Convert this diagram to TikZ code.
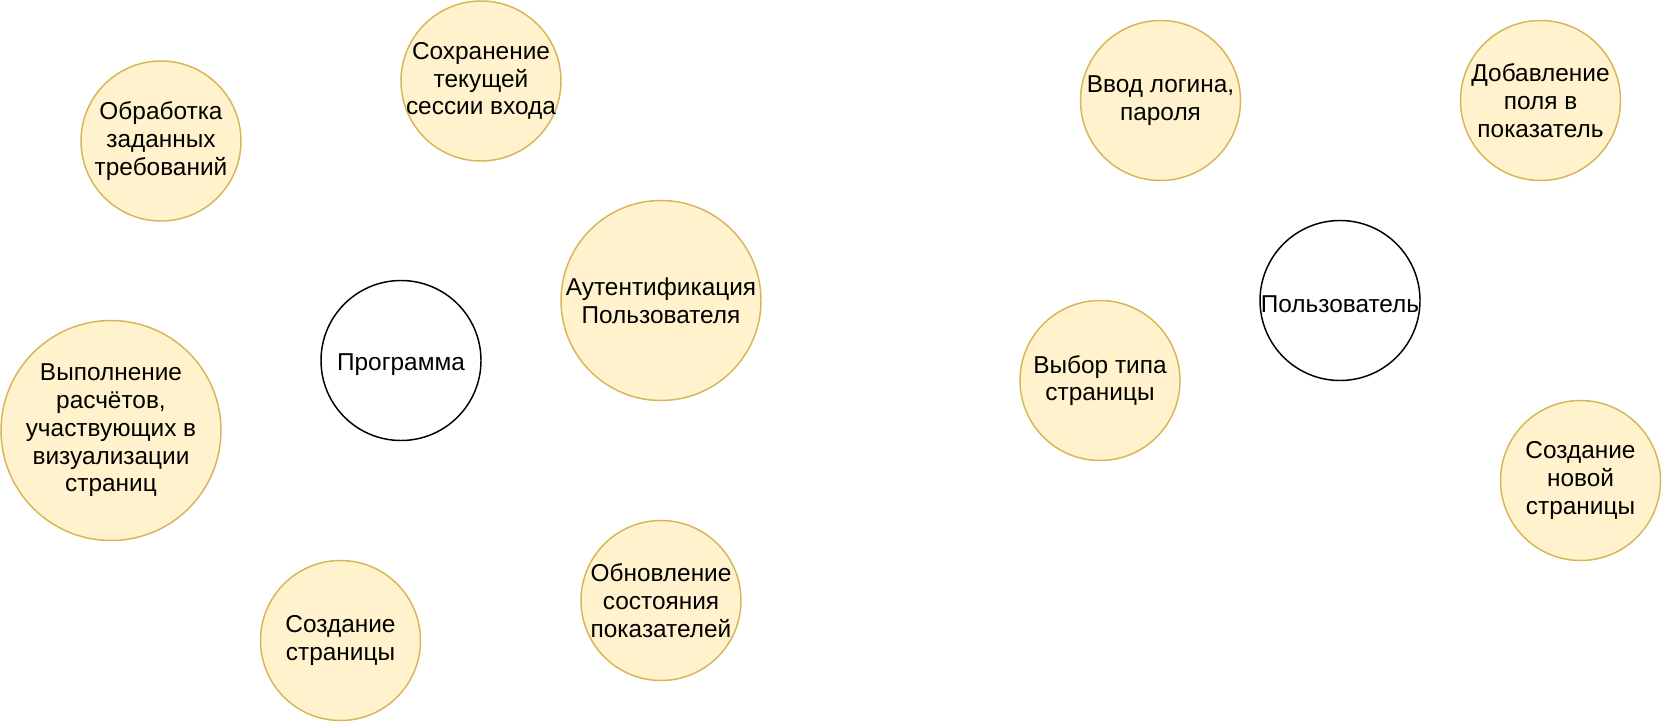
\documentclass[tikz,border=0pt]{standalone}
\usepackage{fontspec}
\setmainfont{Liberation Sans}
\definecolor{ucfill}{HTML}{FFF2CC}
\definecolor{ucdraw}{HTML}{D6B656}
\begin{document}
\begin{tikzpicture}[x=0.75pt,y=-0.75pt,
  lbl/.style={inner sep=0pt,align=center,font=\fontsize{18.3}{20.8}\selectfont},
  base/.style={circle,inner sep=0pt,line width=1.1pt,minimum size=120pt},
  usecase/.style={base,draw=ucdraw,fill=ucfill,label={[lbl]center:#1}},
  actor/.style={base,draw=black,fill=white,label={[lbl,yshift=-3pt]center:#1}}]
\useasboundingbox (0,0) rectangle (1662,724);
\node[usecase={Обработка\\заданных\\требований}] (obr) at (161,141) {};
\node[usecase={Сохранение\\текущей\\сессии входа}] (sohr) at (481,81) {};
\node[usecase={Аутентификация\\Пользователя},minimum size=150pt] (auth) at (661,300.5) {};
\node[actor={Программа}] (prog) at (401,360.5) {};
\node[usecase={Выполнение\\расчётов,\\участвующих в\\визуализации\\страниц},minimum size=165pt] (vyp) at (111,430.5) {};
\node[usecase={Создание\\страницы}] (sozd) at (340.5,640.5) {};
\node[usecase={Обновление\\состояния\\показателей}] (obn) at (661,600.5) {};
\node[usecase={Ввод логина,\\пароля}] (vvod) at (1160.5,100.5) {};
\node[usecase={Добавление\\поля в\\показатель}] (dob) at (1540.5,100.5) {};
\node[actor={Пользователь}] (user) at (1340,300.5) {};
\node[usecase={Выбор типа\\страницы}] (vyb) at (1100,380.5) {};
\node[usecase={Создание\\новой\\страницы}] (nov) at (1580.5,480.5) {};
\end{tikzpicture}
\end{document}
